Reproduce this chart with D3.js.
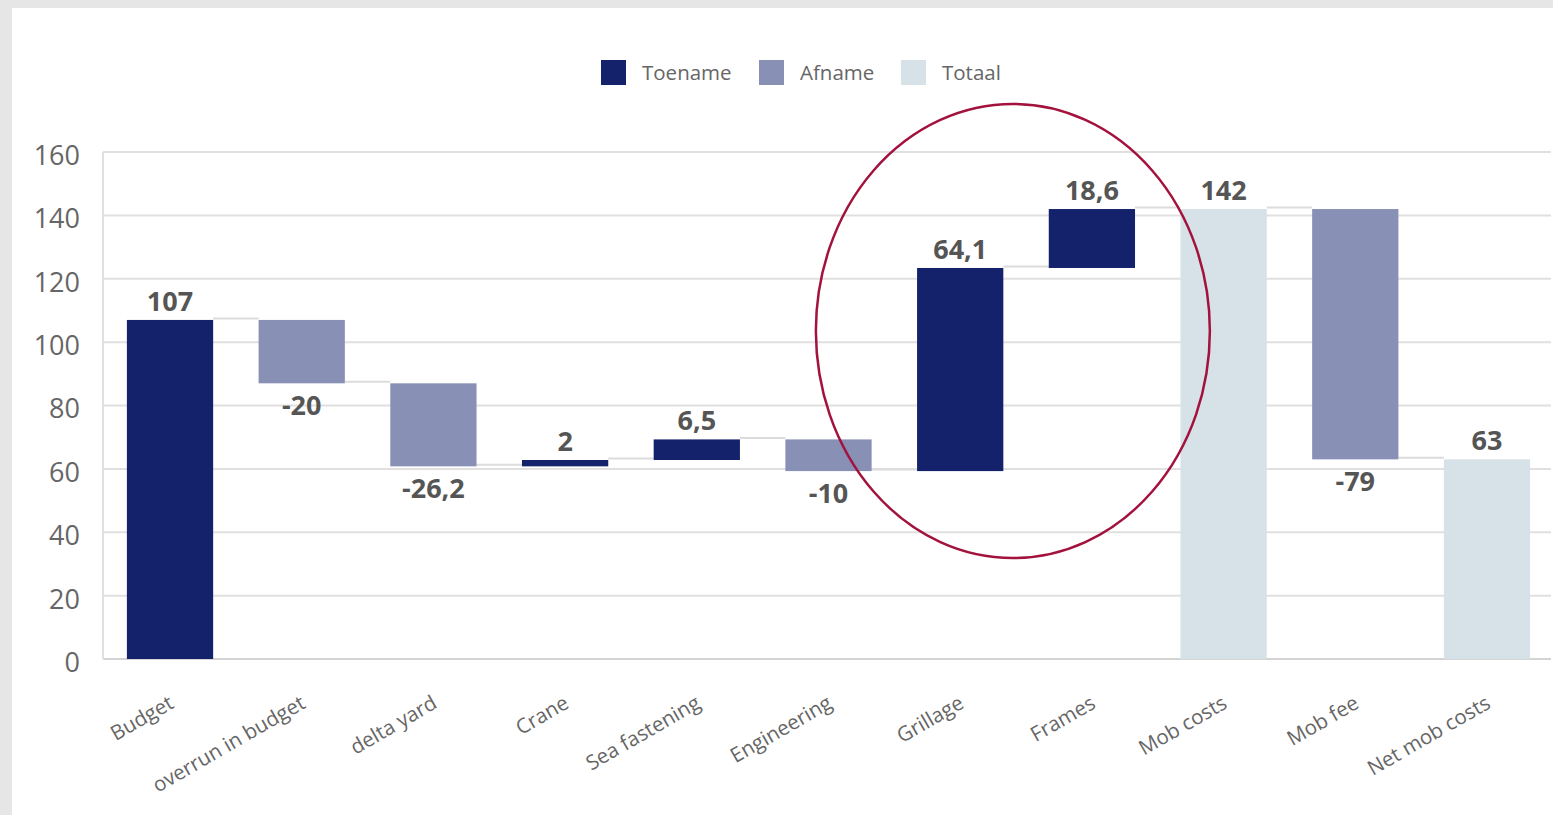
<!DOCTYPE html>
<html>
<head>
<meta charset="utf-8">
<script src="https://cdn.jsdelivr.net/npm/d3@7"></script>
<style>
  html, body { margin: 0; padding: 0; background: #e6e6e6; overflow: hidden; }
  svg { display: block; }
  text { font-family: "Open Sans", "Noto Sans", sans-serif; }
</style>
</head>
<body>
<svg id="chart" width="1553" height="815"></svg>
<script>
// ---- data ----
const categories = ["Budget", "overrun in budget", "delta yard", "Crane", "Sea fastening",
  "Engineering", "Grillage", "Frames", "Mob costs", "Mob fee", "Net mob costs"];
const values = [107, -20, -26.2, 2, 6.5, -10, 64.1, 18.6, 142, -79, 63];
const kinds = ["Toename", "Afname", "Afname", "Toename", "Toename",
  "Afname", "Toename", "Toename", "Totaal", "Afname", "Totaal"];
const legendLabels = ["Toename", "Afname", "Totaal"];
const yTicks = [0, 20, 40, 60, 80, 100, 120, 140, 160];

const colors = { Toename: "#13226a", Afname: "#8890b5", Totaal: "#d6e1e8" };

// compute waterfall steps
let running = 0;
const steps = categories.map((c, i) => {
  const v = values[i];
  let start, end;
  if (kinds[i] === "Totaal") { start = 0; end = v; running = v; }
  else { start = running; end = running + v; running = end; }
  return { cat: c, value: v, kind: kinds[i], start, end };
});

const svg = d3.select("#chart");

// white panel
svg.append("rect").attr("x", 12).attr("y", 8).attr("width", 1553 - 12).attr("height", 815 - 8).attr("fill", "#ffffff");

const plotLeft = 103, plotRight = 1551;
const x = d3.scaleBand().domain(categories).range([plotLeft + 1.5, plotRight + 1.5]).paddingInner(0.345).paddingOuter(0.17);
const y = d3.scaleLinear().domain([0, 160]).range([659, 152]);

// gridlines
const grid = svg.append("g");
grid.selectAll("line").data(yTicks).join("line")
  .attr("x1", plotLeft).attr("x2", plotRight)
  .attr("y1", d => y(d)).attr("y2", d => y(d))
  .attr("stroke", d => d === 0 ? "#d4d4d4" : "#e0e0e0").attr("stroke-width", 2);
grid.append("line").attr("x1", plotLeft).attr("x2", plotLeft)
  .attr("y1", y(160)).attr("y2", y(0)).attr("stroke", "#e0e0e0").attr("stroke-width", 2);

// y axis labels
const yAxis = d3.axisLeft(y).tickValues(yTicks).tickSize(0).tickPadding(0);
const yg = svg.append("g").attr("transform", `translate(80,3)`).call(yAxis);
yg.select(".domain").remove();
yg.selectAll("text").attr("font-size", 27).attr("fill", "#666").attr("dy", "0.35em")
  .style("font-family", '"Open Sans", "Noto Sans", sans-serif');

// connectors
const conn = svg.append("g");
steps.forEach((s, i) => {
  if (i === steps.length - 1) return;
  const lvl = s.end;
  conn.append("line")
    .attr("x1", x(s.cat) + x.bandwidth()).attr("x2", x(steps[i + 1].cat))
    .attr("y1", y(lvl) - 1.5).attr("y2", y(lvl) - 1.5)
    .attr("stroke", "#dcdcdc").attr("stroke-width", 2);
});

// bars
svg.append("g").selectAll("rect").data(steps).join("rect")
  .attr("x", d => x(d.cat))
  .attr("width", x.bandwidth())
  .attr("y", d => y(Math.max(d.start, d.end)))
  .attr("height", d => Math.max(1, Math.abs(y(d.start) - y(d.end))))
  .attr("fill", d => colors[d.kind]);

// value labels
const fmt = v => String(v).replace(".", ",");
svg.append("g").selectAll("text").data(steps).join("text")
  .attr("x", d => x(d.cat) + x.bandwidth() / 2)
  .attr("y", d => d.value < 0 ? y(Math.min(d.start, d.end)) + 32 : y(Math.max(d.start, d.end)) - 9)
  .attr("text-anchor", "middle")
  .attr("font-size", 27).attr("font-weight", "bold").attr("fill", "#555")
  .text(d => fmt(d.value));

// x axis labels
const xg = svg.append("g");
xg.selectAll("text").data(categories).join("text")
  .attr("transform", d => `translate(${x(d) + x.bandwidth() / 2 + 5},${707}) rotate(-30)`)
  .attr("text-anchor", "end")
  .attr("font-size", 20.5).attr("fill", "#666")
  .text(d => d);

// legend
const legendX = [601, 759, 901];
const lg = svg.append("g");
legendLabels.forEach((l, i) => {
  lg.append("rect").attr("x", legendX[i]).attr("y", 60).attr("width", 25).attr("height", 25).attr("fill", colors[l]);
  lg.append("text").attr("x", legendX[i] + 41).attr("y", 80).attr("font-size", 20.5).attr("fill", "#666").text(l);
});

// highlight ellipse (around Grillage and Frames)
const gx = x("Grillage") + x.bandwidth() / 2, fx = x("Frames") + x.bandwidth() / 2;
svg.append("ellipse")
  .attr("cx", gx + (fx - gx) * 0.4)
  .attr("cy", 331).attr("rx", 197).attr("ry", 227)
  .attr("fill", "none").attr("stroke", "#a3123d").attr("stroke-width", 2.5);
</script>
</body>
</html>
